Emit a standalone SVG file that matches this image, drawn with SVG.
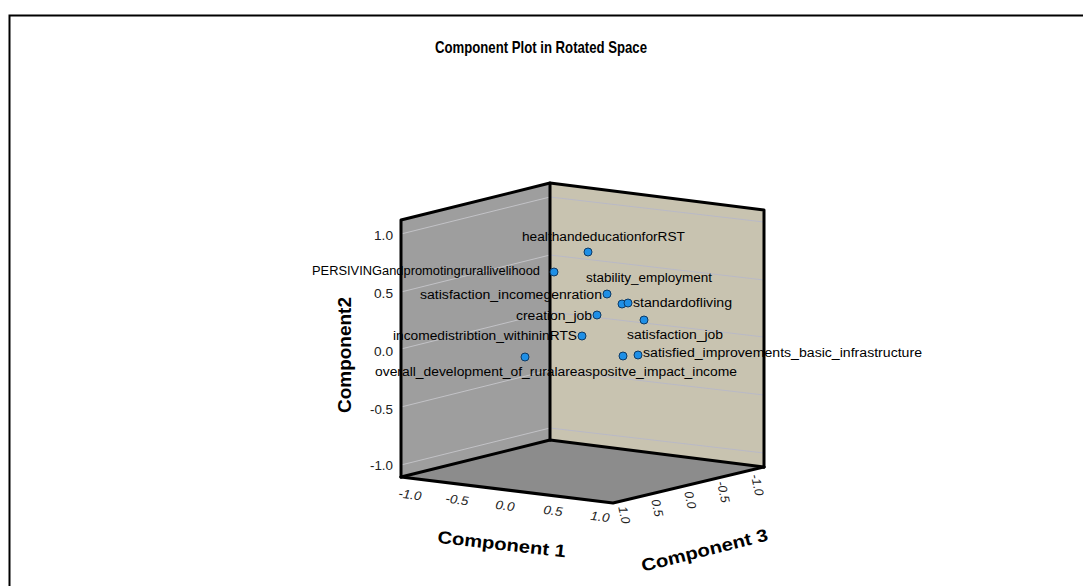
<svg xmlns="http://www.w3.org/2000/svg" width="1083" height="586" viewBox="0 0 1083 586">
<style>
  text { font-family: "Liberation Sans", Arial, sans-serif; fill: #000; }
  .lbl { font-size: 12.5px; }
  .tick { font-size: 12.5px; fill: #222; }
  .ttl { font-size: 17px; font-weight: bold; }
  .axt { font-size: 17.5px; font-weight: bold; }
  .edge { stroke: #000; stroke-width: 3; fill: none; stroke-linecap: round; stroke-linejoin: round; }
  .gridL { stroke: #c2c2c6; stroke-width: 1; }
  .gridR { stroke: #b9b9c6; stroke-width: 1; }
  .pt { fill: #1e8fe6; stroke: #0d3a66; stroke-width: 1; }
</style>
<rect x="0" y="0" width="1083" height="586" fill="#fff"/>
<rect id="frame" x="9.5" y="15.5" width="1100" height="600" fill="none" stroke="#000" stroke-width="2"/>
<text id="title" class="ttl" x="541" y="53" text-anchor="middle" textLength="212" lengthAdjust="spacingAndGlyphs">Component Plot in Rotated Space</text>

<g id="faces">
  <polygon id="left-wall" points="401,220 550,183 550,440 401,477" fill="#9e9e9e"/>
  <polygon id="right-wall" points="550,183 764,210 764,467 550,440" fill="#c8c3b0"/>
  <polygon id="floor" points="401,477 550,440 764,467 613,503" fill="#8c8c8c"/>
</g>
<g id="gridlines">
  <line class="gridL" x1="401" y1="234" x2="550" y2="197"/>
  <line class="gridL" x1="401" y1="292" x2="550" y2="255"/>
  <line class="gridL" x1="401" y1="349" x2="550" y2="312"/>
  <line class="gridL" x1="401" y1="407" x2="550" y2="370"/>
  <line class="gridL" x1="401" y1="465" x2="550" y2="428"/>
  <line class="gridR" x1="550" y1="197" x2="764" y2="222"/>
  <line class="gridR" x1="550" y1="255" x2="764" y2="280"/>
  <line class="gridR" x1="550" y1="312" x2="764" y2="337"/>
  <line class="gridR" x1="550" y1="370" x2="764" y2="395"/>
  <line class="gridR" x1="550" y1="428" x2="764" y2="453"/>
</g>

<g id="y-ticks">
  <text class="tick" x="393" y="240" text-anchor="end" textLength="19" lengthAdjust="spacingAndGlyphs">1.0</text>
  <text class="tick" x="393" y="298" text-anchor="end" textLength="19" lengthAdjust="spacingAndGlyphs">0.5</text>
  <text class="tick" x="393" y="356" text-anchor="end" textLength="19" lengthAdjust="spacingAndGlyphs">0.0</text>
  <text class="tick" x="393" y="414" text-anchor="end" textLength="23" lengthAdjust="spacingAndGlyphs">-0.5</text>
  <text class="tick" x="393" y="470" text-anchor="end" textLength="23" lengthAdjust="spacingAndGlyphs">-1.0</text>
</g>
<g id="x-ticks" font-style="italic">
  <text class="tick" transform="translate(410,495) rotate(7)" y="4" text-anchor="middle" textLength="23" lengthAdjust="spacingAndGlyphs">-1.0</text>
  <text class="tick" transform="translate(457,500) rotate(7)" y="4" text-anchor="middle" textLength="23" lengthAdjust="spacingAndGlyphs">-0.5</text>
  <text class="tick" transform="translate(505,506) rotate(7)" y="4" text-anchor="middle" textLength="19" lengthAdjust="spacingAndGlyphs">0.0</text>
  <text class="tick" transform="translate(553,511) rotate(7)" y="4" text-anchor="middle" textLength="19" lengthAdjust="spacingAndGlyphs">0.5</text>
  <text class="tick" transform="translate(600,517) rotate(7)" y="4" text-anchor="middle" textLength="19" lengthAdjust="spacingAndGlyphs">1.0</text>
</g>
<g id="z-ticks" font-style="italic">
  <text class="tick" transform="translate(624,515) rotate(78)" y="4" text-anchor="middle">1.0</text>
  <text class="tick" transform="translate(657,508) rotate(78)" y="4" text-anchor="middle">0.5</text>
  <text class="tick" transform="translate(690,500) rotate(78)" y="4" text-anchor="middle">0.0</text>
  <text class="tick" transform="translate(723,492) rotate(78)" y="4" text-anchor="middle">-0.5</text>
  <text class="tick" transform="translate(757,485) rotate(78)" y="4" text-anchor="middle">-1.0</text>
</g>
<g id="axis-titles">
  <text id="axis-y" class="axt" transform="translate(351,355) rotate(-90)" text-anchor="middle" font-size="19" textLength="116" lengthAdjust="spacingAndGlyphs">Component2</text>
  <text id="axis-x" class="axt" transform="translate(501,550) rotate(6.5)" text-anchor="middle" textLength="129" lengthAdjust="spacingAndGlyphs">Component 1</text>
  <text id="axis-z" class="axt" transform="translate(706,556) rotate(-14)" text-anchor="middle" textLength="130" lengthAdjust="spacingAndGlyphs">Component 3</text>
</g>

<g id="labels">
  <text id="lbl-health" class="lbl" x="522" y="241" textLength="163" lengthAdjust="spacingAndGlyphs">healthandeducationforRST</text>
  <text id="lbl-persiving" class="lbl" x="312" y="275" textLength="228" lengthAdjust="spacingAndGlyphs">PERSIVINGandpromotingrurallivelihood</text>
  <text id="lbl-stability" class="lbl" x="586" y="282" textLength="126" lengthAdjust="spacingAndGlyphs">stability_employment</text>
  <text id="lbl-incomegen" class="lbl" x="420" y="299" textLength="182" lengthAdjust="spacingAndGlyphs">satisfaction_incomegenration</text>
  <text id="lbl-standard" class="lbl" x="633" y="307" textLength="99" lengthAdjust="spacingAndGlyphs">standardofliving</text>
  <text id="lbl-creation" class="lbl" x="516" y="320" textLength="76" lengthAdjust="spacingAndGlyphs">creation_job</text>
  <text id="lbl-satjob" class="lbl" x="627" y="339" textLength="96" lengthAdjust="spacingAndGlyphs">satisfaction_job</text>
  <text id="lbl-incomedist" class="lbl" x="393" y="340" textLength="184" lengthAdjust="spacingAndGlyphs">incomedistribtion_withininRTS</text>
  <text id="lbl-infra" class="lbl" x="643" y="357" textLength="279" lengthAdjust="spacingAndGlyphs">satisfied_improvements_basic_infrastructure</text>
  <text id="lbl-overall" class="lbl" x="375" y="376" textLength="362" lengthAdjust="spacingAndGlyphs">overall_development_of_ruralareaspositve_impact_income</text>
</g>

<g id="box-edges">
  <polyline class="edge" points="401,477 401,220 550,183 764,210 764,467"/>
  <line class="edge" x1="550" y1="183" x2="550" y2="440"/>
  <polyline class="edge" points="401,477 550,440 764,467"/>
  <polyline class="edge" points="401,477 613,503 764,467"/>
</g>

<g id="points">
  <circle id="pt-health" class="pt" cx="588" cy="252" r="4"/>
  <circle id="pt-persiving" class="pt" cx="554" cy="272" r="4"/>
  <circle id="pt-incomegen" class="pt" cx="607" cy="294" r="4"/>
  <circle id="pt-stability" class="pt" cx="622" cy="304" r="4"/>
  <circle id="pt-standard" class="pt" cx="628" cy="303" r="4"/>
  <circle id="pt-creation" class="pt" cx="597" cy="315" r="4"/>
  <circle id="pt-satjob" class="pt" cx="644" cy="320" r="4"/>
  <circle id="pt-incomedist" class="pt" cx="582" cy="336" r="4"/>
  <circle id="pt-overall" class="pt" cx="525" cy="357" r="4"/>
  <circle id="pt-positive" class="pt" cx="623" cy="356" r="4"/>
  <circle id="pt-infra" class="pt" cx="638" cy="355" r="4"/>
</g>
</svg>
